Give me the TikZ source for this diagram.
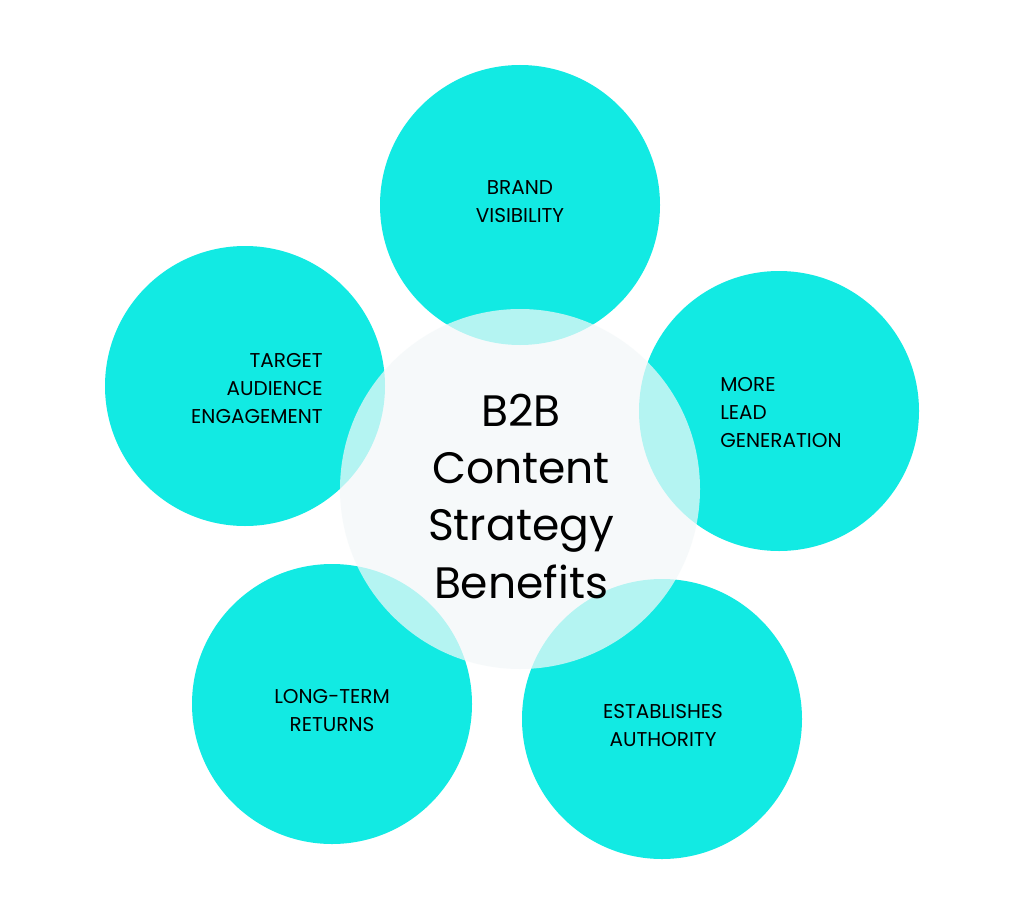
\documentclass[tikz,border=0pt]{standalone}
\usepackage{fontspec}
\setmainfont{Poppins}
\definecolor{benefitcyan}{HTML}{12EAE3}
\definecolor{corefill}{HTML}{F3F8F9}
\tikzset{
  benefit/.style={circle,fill=benefitcyan,minimum size=280,inner sep=0pt},
  core/.style={circle,fill=corefill,fill opacity=0.72,minimum size=360,inner sep=0pt},
  label/.style={font=\fontsize{15pt}{21pt}\selectfont,text=black,inner sep=0pt},
  corelabel/.style={font=\fontsize{33pt}{43pt}\selectfont,text=black,align=center,inner sep=0pt}
}
\begin{document}
\begin{tikzpicture}[x=0.75pt,y=-0.75pt]
  \useasboundingbox (0,0) rectangle (1024,924);
  \fill[white] (0,0) rectangle (1024,924);
  \begin{scope}[x=0.75pt,y=0.75pt]
  \end{scope}
  % benefit circles
  \node[benefit,minimum size=210pt] (brand) at (520,205) {};
  \node[benefit,minimum size=210pt] (lead) at (779,411) {};
  \node[benefit,minimum size=210pt] (authority) at (662,719) {};
  \node[benefit,minimum size=210pt] (returns) at (332,704) {};
  \node[benefit,minimum size=210pt] (audience) at (245,386) {};
  % centre circle
  \node[core,minimum size=270pt] (centre) at (520,489) {};
  % texts
  \node[label,align=center] (brandtext) at (520,202) {BRAND\\VISIBILITY};
  \node[label,align=right,anchor=east] (audiencetext) at (323,389) {TARGET\\AUDIENCE\\ENGAGEMENT};
  \node[label,align=left,anchor=west] (leadtext) at (720,413) {MORE\\LEAD\\GENERATION};
  \node[label,align=center] (returnstext) at (332,711) {LONG-TERM\\RETURNS};
  \node[label,align=center] (authoritytext) at (663,726) {ESTABLISHES\\AUTHORITY};
  \node[corelabel] (centretext) at (521,496) {B2B\\Content\\Strategy\\Benefits};
\end{tikzpicture}
\end{document}
